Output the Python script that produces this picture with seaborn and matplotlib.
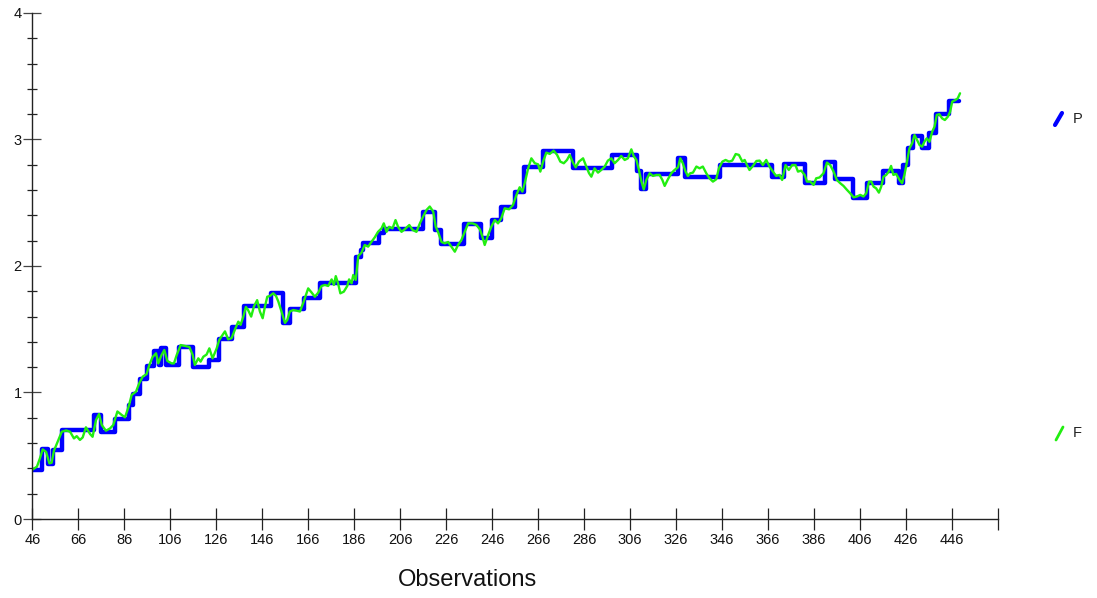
import matplotlib
matplotlib.use("Agg")
import matplotlib.pyplot as plt
from matplotlib.lines import Line2D
from matplotlib.ticker import MultipleLocator
import seaborn as sns
import pandas as pd

# ---- data ----
# P: step series, level starting at each observation
P_obs = [46, 50, 53, 55, 59, 73, 76, 82, 88, 90, 93, 96, 99, 101, 102, 104, 110, 116,
         123, 127, 133, 138, 150, 155, 158, 164, 171, 187, 189, 190, 197, 199, 216, 221,
         224, 234, 241, 246, 250, 256, 260, 268, 281, 298, 309, 311, 313, 327, 330, 345,
         368, 373, 382, 391, 395, 403, 409, 416, 423, 425, 427, 429, 433, 436, 439, 445, 449]
P_val = [0.39, 0.555, 0.435, 0.545, 0.70, 0.82, 0.69, 0.79, 0.90, 0.99, 1.11, 1.21, 1.33,
         1.22, 1.35, 1.22, 1.36, 1.20, 1.26, 1.42, 1.52, 1.68, 1.785, 1.55, 1.66, 1.75,
         1.866, 2.07, 2.126, 2.184, 2.258, 2.29, 2.43, 2.285, 2.174, 2.33, 2.22, 2.364,
         2.464, 2.588, 2.785, 2.91, 2.772, 2.877, 2.75, 2.606, 2.725, 2.85, 2.706, 2.798,
         2.70, 2.806, 2.658, 2.825, 2.685, 2.535, 2.653, 2.754, 2.653, 2.798, 2.93, 3.03,
         2.93, 3.05, 3.2, 3.307, 3.307]

# F: fitted series
F_obs = [46, 48, 49.3, 50.5, 52, 53.4, 54.4, 55.4, 57.3, 58.8, 60.7, 62.4, 64.1, 65.3, 66.7,
         67.9, 69.3, 71.1, 72.2, 73.7, 75, 76.2, 78, 79.8, 81.2, 83, 84.9, 86.3, 87.8, 89.2,
         91.1, 92.5, 94, 95.7, 96.9, 98.3, 99.8, 100.8, 102.2, 103.4, 104.7, 106.6, 107.6,
         108.8, 110.5, 112.4, 114.3, 115.7, 116.7, 118.2, 119.2, 120.4, 121.8, 123, 124.4,
         126.2, 127.3, 128.3, 129.8, 131.2, 132.7, 134.1, 135.6, 136.6, 137.8, 138.9, 139.9,
         141.2, 142.4, 143.8, 145, 146.2, 147.2, 148.2, 149.3, 150.8, 152, 153, 154.4, 155.9,
         156.9, 158, 159.5, 160.9, 162.4, 163.8, 165, 166, 167.5, 168.9, 170.4, 171.8, 173.3,
         174.7, 176.2, 177.2, 178, 179, 180, 181.5, 183, 183.8, 184.9, 185.6, 186.7, 187.8,
         189.2, 190.6, 192.1, 193.5, 195, 196.4, 197.9, 198.9, 200.1, 201.2, 202.7, 204,
         205.1, 206.6, 208, 210, 211.4, 213.1, 214.6, 216, 217.5, 218.9, 220.4, 221.5, 222.5,
         224, 225.4, 226.9, 228.3, 229.8, 231.2, 232.7, 234.1, 235.6, 237.5, 239.2, 240.7,
         241.8, 242.8, 244.3, 245.7, 247.2, 248.6, 250, 251.5, 253.4, 255.1, 256.6, 258,
         259.2, 260.2, 261.7, 263.1, 264.6, 266, 267, 268.2, 269.6, 271.1, 272.8, 274.3,
         275.7, 277.2, 278.6, 279.8, 281.2, 282.4, 283.8, 285.6, 287, 288.2, 289.2, 290.6,
         292.1, 293.5, 295, 296.4, 297.9, 299.3, 300.8, 302.2, 303.7, 305.1, 306.6, 307.6,
         308.8, 309.9, 311, 312, 313.1, 314.6, 316, 317.5, 318.9, 320.1, 321.1, 322.5, 324,
         325.4, 326.9, 327.9, 329, 330.2, 331.2, 332.2, 333.4, 334.9, 336.3, 337.7, 339.2,
         340.6, 342.1, 343.5, 344.7, 346.2, 347.6, 349.1, 350.5, 352, 353.4, 354.9, 355.9,
         356.9, 358, 359.5, 361, 362.4, 363.8, 365.3, 366.7, 368.2, 369.6, 371.1, 372.2,
         373.7, 375.1, 376.6, 378, 379.1, 380.5, 382, 383, 384.4, 385.9, 387, 388.5, 390.2,
         391.7, 393.1, 394.6, 396, 397.5, 398.9, 400.4, 401.8, 403.3, 404.7, 406.2, 407.6,
         408.8, 410, 411, 412, 413.1, 414.3, 415.3, 416.3, 417.5, 418.6, 419.6, 420.6, 421.8,
         423.3, 424.4, 425.4, 426.4, 427.6, 428.8, 429.8, 430.8, 432, 433.1, 434.1, 435.1,
         436.3, 437.5, 438.5, 439.5, 440.6, 441.8, 443, 444.3, 445.3, 446.2, 447.6, 448.6,
         449.6]
F_val = [0.39, 0.414, 0.48, 0.55, 0.53, 0.44, 0.445, 0.54, 0.625, 0.69, 0.70, 0.69, 0.637,
         0.655, 0.625, 0.645, 0.725, 0.672, 0.65, 0.783, 0.83, 0.743, 0.698, 0.716, 0.743,
         0.85, 0.822, 0.804, 0.883, 0.98, 1.007, 1.073, 1.125, 1.146, 1.218, 1.28, 1.31, 1.23,
         1.296, 1.336, 1.25, 1.23, 1.23, 1.296, 1.375, 1.368, 1.36, 1.30, 1.218, 1.27, 1.244,
         1.283, 1.30, 1.349, 1.27, 1.349, 1.415, 1.443, 1.483, 1.42, 1.43, 1.496, 1.56, 1.535,
         1.60, 1.676, 1.65, 1.60, 1.68, 1.73, 1.64, 1.587, 1.68, 1.757, 1.763, 1.784, 1.763,
         1.72, 1.64, 1.55, 1.573, 1.64, 1.652, 1.647, 1.64, 1.705, 1.77, 1.823, 1.79, 1.757,
         1.79, 1.842, 1.85, 1.842, 1.894, 1.85, 1.92, 1.863, 1.784, 1.797, 1.842, 1.894,
         1.863, 1.929, 1.89, 2.08, 2.105, 2.166, 2.153, 2.19, 2.227, 2.27, 2.297, 2.337, 2.27,
         2.31, 2.297, 2.363, 2.31, 2.27, 2.29, 2.324, 2.285, 2.27, 2.337, 2.39, 2.443, 2.47,
         2.43, 2.31, 2.27, 2.19, 2.179, 2.19, 2.153, 2.113, 2.166, 2.206, 2.27, 2.337, 2.337,
         2.324, 2.29, 2.232, 2.166, 2.245, 2.311, 2.364, 2.337, 2.377, 2.456, 2.448, 2.482,
         2.561, 2.622, 2.588, 2.654, 2.772, 2.851, 2.812, 2.804, 2.746, 2.825, 2.896, 2.886,
         2.912, 2.878, 2.825, 2.812, 2.838, 2.878, 2.817, 2.78, 2.825, 2.851, 2.786, 2.733,
         2.706, 2.772, 2.738, 2.759, 2.786, 2.833, 2.851, 2.812, 2.838, 2.87, 2.838, 2.851,
         2.922, 2.87, 2.838, 2.759, 2.667, 2.606, 2.68, 2.733, 2.712, 2.72, 2.72, 2.68, 2.633,
         2.685, 2.733, 2.759, 2.78, 2.851, 2.812, 2.746, 2.712, 2.733, 2.738, 2.786, 2.772,
         2.786, 2.733, 2.693, 2.667, 2.685, 2.772, 2.825, 2.838, 2.825, 2.833, 2.885, 2.878,
         2.825, 2.838, 2.798, 2.759, 2.791, 2.83, 2.833, 2.798, 2.838, 2.786, 2.746, 2.712,
         2.72, 2.68, 2.798, 2.759, 2.798, 2.798, 2.746, 2.754, 2.72, 2.667, 2.667, 2.641,
         2.693, 2.70, 2.733, 2.817, 2.798, 2.746, 2.68, 2.654, 2.633, 2.602, 2.575, 2.543,
         2.549, 2.562, 2.549, 2.575, 2.667, 2.667, 2.627, 2.614, 2.58, 2.627, 2.706, 2.72,
         2.746, 2.791, 2.72, 2.728, 2.68, 2.654, 2.72, 2.812, 2.93, 2.97, 3.035, 3.0, 2.956,
         2.943, 2.982, 3.009, 2.982, 3.062, 3.101, 3.194, 3.2, 3.167, 3.154, 3.18, 3.22,
         3.299, 3.312, 3.325, 3.365]

x_ticks = list(range(46, 467, 20))
x_labels = [str(v) for v in range(46, 447, 20)] + [""]
y_major = [0, 1, 2, 3, 4]

# ---- plot ----
sns.set_style("white")
plt.rcParams["font.family"] = ["Liberation Sans", "DejaVu Sans"]

fig = plt.figure(figsize=(10.97, 5.98), dpi=100)
ax = fig.add_axes([0.0295, 0.1321, 0.8800, 0.8462])

dfP = pd.DataFrame({"obs": P_obs, "val": P_val})
dfF = pd.DataFrame({"obs": F_obs, "val": F_val})

sns.lineplot(data=dfP, x="obs", y="val", ax=ax, color="#0000ff", linewidth=3.2,
             drawstyle="steps-post", estimator=None, sort=False)
sns.lineplot(data=dfF, x="obs", y="val", ax=ax, color="#22ee11", linewidth=1.7,
             estimator=None, sort=False)

ax.set_xlim(46, 466)
ax.set_ylim(0, 4)
ax.set_xticks(x_ticks)
ax.set_xticklabels(x_labels)
ax.set_yticks(y_major)
ax.yaxis.set_minor_locator(MultipleLocator(0.2))

for s in ["top", "right"]:
    ax.spines[s].set_visible(False)
for s in ["left", "bottom"]:
    ax.spines[s].set_color("#222222")
    ax.spines[s].set_linewidth(1.0)

ax.tick_params(axis="x", which="major", direction="inout", length=16, width=0.9,
               color="#222222", labelsize=10.5, pad=2, labelcolor="#111111", bottom=True)
ax.tick_params(axis="y", which="major", direction="inout", length=13.5, width=0.9,
               color="#444444", labelsize=10.5, pad=1, labelcolor="#111111", left=True)
ax.tick_params(axis="y", which="minor", direction="inout", length=6.5, width=0.9,
               color="#222222", left=True)

ax.set_xlabel("")
ax.set_ylabel("")

W, H = 1097.0, 598.0
fig.text(467 / W, 1 - 580 / H, "Observations", fontsize=17, va="center", ha="center",
         color="#111111")
fig.add_artist(Line2D([1055 / W, 1062 / W], [1 - 125 / H, 1 - 113 / H],
                      color="#0000ff", linewidth=3.0, transform=fig.transFigure))
fig.text(1073 / W, 1 - 119 / H, "P", fontsize=10.5, va="center", ha="left", color="#222222")
fig.add_artist(Line2D([1056 / W, 1063 / W], [1 - 440 / H, 1 - 427 / H],
                      color="#22ee11", linewidth=2.0, transform=fig.transFigure))
fig.text(1073 / W, 1 - 433 / H, "F", fontsize=10.5, va="center", ha="left", color="#222222")

fig.savefig("out.png", dpi=100)
